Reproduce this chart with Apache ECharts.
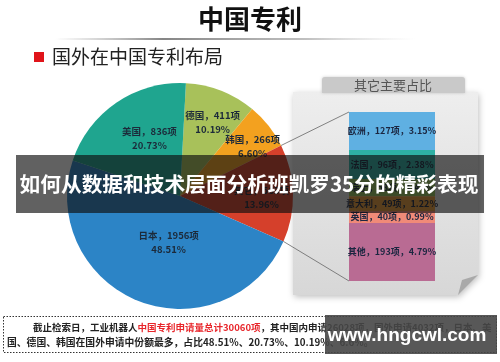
<!DOCTYPE html>
<html><head><meta charset="utf-8">
<style>html,body{margin:0;padding:0;background:#fff}#c{width:500px;height:362px}</style>
<script src="https://cdn.jsdelivr.net/npm/echarts@6/dist/echarts.min.js"></script>
</head><body><div id="c"></div>
<script>
// ---- data ----
const pieNames = ['德国', '韩国', '其它', '日本', '美国'];
const pieValues = [411, 266, 563, 1956, 836];
const pieColors = ['#a8c15a', '#f3a11f', '#d5402b', '#2c84c6', '#1fa58f'];
const barNames = ['欧洲', '法国', '瑞士', '意大利', '英国', '其他'];
const barValues = [127, 96, 58, 49, 40, 193];
const barColors = ['#5fb0e2', '#2eb0a4', '#8fbf5a', '#e59a3a', '#f08a78', '#b96b93'];
const foreignTotal = 4032;

// ---- layout ----
const FONT = '"Noto Sans CJK SC", sans-serif';
const pieCenter = [180, 196], pieR = 113, pieStart = 87;
const barBox = {left: 349, top: 112, width: 86, height: 169};
const labelShift = [[11, -18], [26, -13], [22, 3], [10, -9], [3, -8]];

const chart = echarts.init(document.getElementById('c'), null, {renderer: 'canvas'});
const barSum = barValues.reduce((a, b) => a + b, 0);
const pieTotal = pieValues.reduce((a, b) => a + b, 0);

// connector lines computed from pie geometry and bar box
function boundaryAngle(k) {
  let s = 0; for (let i = 0; i < k; i++) s += pieValues[i];
  return (pieStart - s / pieTotal * 360) * Math.PI / 180;
}
const idxOther = pieNames.indexOf('其它');
const a1 = boundaryAngle(idxOther), a2 = boundaryAngle(idxOther + 1);
const p1 = [pieCenter[0] + pieR * Math.cos(a1), pieCenter[1] - pieR * Math.sin(a1)];
const p2 = [pieCenter[0] + pieR * Math.cos(a2), pieCenter[1] - pieR * Math.sin(a2)];

const barSeries = barNames.map((n, i) => ({
  type: 'bar', name: n, stack: 's', barWidth: '100%', z: 3,
  data: [barValues[i]],
  itemStyle: {color: barColors[i]},
  label: {show: true, position: 'inside', color: '#1b2640', fontSize: 9, fontWeight: 'bold', fontFamily: FONT,
    formatter: () => n + '，' + barValues[i] + '项，' + (barValues[i] / foreignTotal * 100).toFixed(2) + '%'}
}));

const option = {
  animation: false,
  grid: {left: barBox.left, top: barBox.top, width: barBox.width, height: barBox.height, containLabel: false},
  xAxis: {type: 'category', data: ['其它'], show: false},
  yAxis: {type: 'value', min: 0, max: barSum, inverse: true, show: false},
  series: [{
    type: 'pie', center: pieCenter, radius: [0, pieR], startAngle: pieStart, clockwise: true, z: 2,
    data: pieNames.map((n, i) => ({name: n, value: pieValues[i], itemStyle: {color: pieColors[i]}})),
    label: {show: true, position: 'inside',
      formatter: p => p.name + '，' + p.value + '项\n' + (p.value / pieTotal * 100).toFixed(2) + '%',
      color: '#1c2a3a', fontSize: 9.5, fontWeight: 'bold', fontFamily: FONT, lineHeight: 14},
    labelLine: {show: false},
    labelLayout: p => ({dx: labelShift[p.dataIndex][0], dy: labelShift[p.dataIndex][1]})
  }].concat(barSeries),
  graphic: [
    {type: 'text', left: 'center', top: 6, style: {text: '中国专利', font: 'bold 26px ' + FONT, fill: '#111'}},
    {type: 'rect', shape: {x: 55, y: 38, width: 360, height: 2},
      style: {fill: new echarts.graphic.LinearGradient(0, 0, 1, 0, [
        {offset: 0, color: 'rgba(150,150,150,0)'}, {offset: 0.3, color: 'rgba(120,120,120,0.9)'},
        {offset: 0.7, color: 'rgba(150,150,150,0.6)'}, {offset: 1, color: 'rgba(200,200,200,0)'}])}},
    {type: 'rect', shape: {x: 34, y: 52, width: 10, height: 10}, style: {fill: '#e0141a'}},
    {type: 'text', x: 52, y: 57, style: {text: '国外在中国专利布局', font: '19px ' + FONT, fill: '#222', verticalAlign: 'middle'}},
    {type: 'polygon', z: -10, shape: {points: [[293, 92], [478, 92], [478, 275], [458, 295], [293, 295]]},
      style: {fill: new echarts.graphic.LinearGradient(0, 0, 0, 1, [{offset: 0, color: '#eeeeee'}, {offset: 1, color: '#d7d7d7'}]),
        shadowBlur: 6, shadowColor: 'rgba(0,0,0,0.25)', shadowOffsetX: 1, shadowOffsetY: 2}},
    {type: 'polygon', z: -9, shape: {points: [[458, 295], [478, 275], [462, 280]]}, style: {fill: '#a9a9a9'}},
    {type: 'rect', z: -9, shape: {x: 322, y: 77, width: 143, height: 16, r: [3, 3, 0, 0]},
      style: {fill: '#c9c9c9', shadowBlur: 3, shadowColor: 'rgba(0,0,0,0.2)'}},
    {type: 'text', z: -8, x: 393, y: 85, style: {text: '其它主要占比', font: '13px ' + FONT, fill: '#555', align: 'center', verticalAlign: 'middle'}},
    {type: 'line', z: 5, shape: {x1: p1[0], y1: p1[1], x2: barBox.left, y2: barBox.top}, style: {stroke: '#666', lineWidth: 0.8}},
    {type: 'line', z: 5, shape: {x1: p2[0], y1: p2[1], x2: barBox.left, y2: barBox.top + barBox.height}, style: {stroke: '#666', lineWidth: 0.8}},
    {type: 'rect', shape: {x: 3.5, y: 316.5, width: 493, height: 36}, style: {fill: '#fff', stroke: '#333', lineWidth: 1, lineDash: [1.5, 1.5]}},
    {type: 'text', x: 33, y: 327, style: {
      text: '{b|截止检索日，工业机器人}{r|中国专利申请量总计30060项}{b|，其中国内申请26028项，国外申请4032项，日本、美}',
      verticalAlign: 'middle',
      rich: {b: {font: 'bold 9.5px ' + FONT, fill: '#222'}, r: {font: 'bold 9.5px ' + FONT, fill: '#e8262b'}}}},
    {type: 'text', x: 7, y: 342, style: {text: '国、德国、韩国在国外申请中份额最多，占比48.51%、20.73%、10.19%、6.6%。',
      font: 'bold 9.8px ' + FONT, fill: '#222', verticalAlign: 'middle'}},
    {type: 'rect', z: 100, shape: {x: 16, y: 155, width: 468, height: 58}, style: {fill: 'rgba(15,15,15,0.66)'}},
    {type: 'text', z: 101, x: 249, y: 184, style: {text: '如何从数据和技术层面分析班凯罗35分的精彩表现',
      font: 'bold 20.7px ' + FONT, fill: '#fff', align: 'center', verticalAlign: 'middle'}},
    {type: 'rect', z: 100, shape: {x: 325, y: 315, width: 172, height: 39}, style: {fill: 'rgba(70,70,70,0.9)'}},
    {type: 'text', z: 101, x: 407, y: 336, style: {text: 'www.hngcwl.com', font: 'bold 19px "Liberation Sans", Arial, sans-serif',
      fill: '#fff', align: 'center', verticalAlign: 'middle'}}
  ]
};
chart.setOption(option);
</script></body></html>
